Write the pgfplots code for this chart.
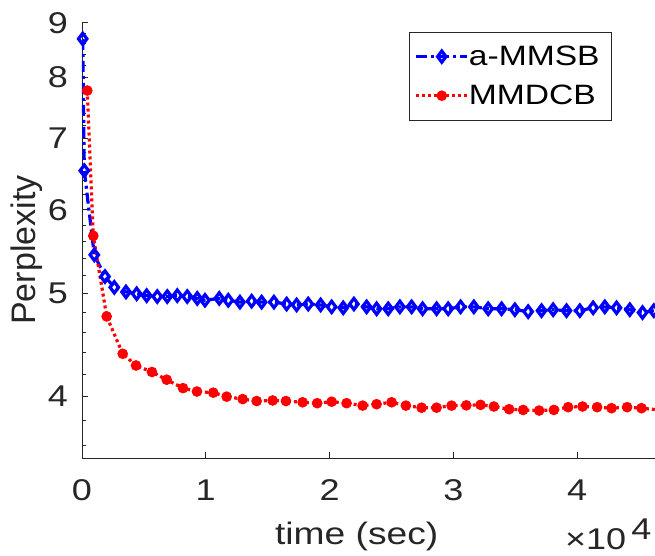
\documentclass[border=0pt]{standalone}
\usepackage{fontspec}
\setmainfont{Liberation Sans}[FakeStretch=1.2]
\newfontfamily\ylfont{Liberation Sans}
\usepackage{pgfplots}
\pgfplotsset{compat=1.18}
\definecolor{axgray}{gray}{0.15}
\definecolor{mblue}{rgb}{0,0,1}
\definecolor{mred}{rgb}{1,0,0}
\begin{document}
\begin{tikzpicture}
\useasboundingbox (-82pt,-97.7pt) rectangle (573pt,458.3pt);
\begin{axis}[
  at={(0pt,0pt)}, anchor=south west,
  scale only axis, width=573pt, height=435.6pt,
  xmin=0, xmax=46300, ymin=3.5, ymax=9,
  ymode=log,
  axis x line*=bottom, axis y line*=left,
  axis line style={axgray, line width=0.8pt, -},
  xtick={0,10000,20000,30000,40000}, xticklabels={0,1,2,3,4},
  scaled x ticks=false,
  ytick={4,5,6,7,8,9}, yticklabels={4,5,6,7,8,9},
  minor ytick={3.6,3.8,4.2,4.4,4.6,4.8,5.2,5.4,5.6,5.8,6.2,6.4,6.6,6.8,7.2,7.4,7.6,7.8,8.2,8.4,8.6,8.8},
  tick align=inside,
  major tick length=6pt, minor tick length=3.5pt,
  tick style={axgray, line width=0.8pt},
  ticklabel style={font=\fontsize{30}{36}\selectfont, text=axgray},
  yticklabel style={inner sep=0pt, anchor=east, xshift=-14pt},
  xticklabel style={inner sep=0pt, anchor=north, yshift=-21pt},
  xlabel={time (sec)},
  xlabel style={at={(axis description cs:0.4794,-0.199)}, anchor=base, inner sep=0pt, font=\fontsize{31}{37}\selectfont, text=axgray},
  ylabel={Perplexity},
  ylabel style={at={(axis description cs:-0.0820,0.478)}, anchor=base, inner sep=0pt, rotate=0, font=\ylfont\fontsize{34}{40}\selectfont, text=axgray},
  legend style={at={(axis description cs:0.5712,0.9793)}, anchor=north west,
    draw=axgray, line width=0.8pt, fill=white,
    font=\fontsize{28}{33}\selectfont,
    inner xsep=5pt, inner ysep=14pt, row sep=18pt,
    nodes={inner sep=0pt},
    /tikz/every even column/.append style={column sep=5pt}},
  legend cell align=left,
  legend image code/.code={\draw[mark repeat=2,mark phase=2,#1] plot coordinates {(0pt,0pt) (25.5pt,0pt) (51pt,0pt)};},
]
\addplot[mblue, line width=3.2pt, dash pattern={on 11pt off 4pt on 3pt off 4pt},
  mark=diamond, mark size=5.6pt, mark options={solid, fill=white, line width=3.2pt}]
coordinates {
(57,8.69) (186,6.53) (994,5.44) (1858,5.19) (2609,5.07) (3554,5.02) (4418,5.00) (5226,4.98) (6082,4.97) (6890,4.97) (7698,4.98) (8506,4.97) (9313,4.95) (9935,4.93) (11090,4.95) (11818,4.93) (12763,4.91) (13708,4.92) (14515,4.91) (15509,4.91) (16535,4.89) (17342,4.88) (18279,4.89) (19281,4.88) (20170,4.86) (21107,4.85) (21971,4.89) (22997,4.86) (23805,4.84) (24742,4.84) (25687,4.86) (26632,4.86) (27520,4.84) (28651,4.84) (29588,4.84) (30590,4.86) (31664,4.86) (32819,4.84) (33902,4.84) (34976,4.83) (36050,4.81) (37132,4.82) (38069,4.83) (39152,4.82) (40226,4.82) (41301,4.85) (42246,4.86) (43191,4.85) (44265,4.83) (45291,4.80) (46204,4.82)
};
\addlegendentry{a-MMSB\hspace*{7pt}}
\addplot[mred, line width=3.2pt, dash pattern={on 3pt off 3pt},
  mark=*, mark size=4.8pt, mark options={solid, fill=mred, line width=1pt}]
coordinates {
(428,7.77) (913,5.67) (1995,4.76) (3288,4.39) (4362,4.28) (5654,4.22) (6842,4.15) (8158,4.075) (9289,4.045) (10606,4.035) (11688,4.00) (12981,3.98) (14111,3.963) (15404,3.968) (16478,3.963) (17827,3.952) (19006,3.944) (20170,3.957) (21381,3.944) (22674,3.924) (23805,3.936) (25016,3.952) (26171,3.924) (27439,3.906) (28651,3.906) (29863,3.924) (31058,3.926) (32205,3.930) (33279,3.916) (34515,3.893) (35646,3.887) (36939,3.882) (38126,3.887) (39281,3.910) (40444,3.916) (41624,3.910) (42787,3.902) (44047,3.910) (45210,3.902) (46365,3.89)
};
\addlegendentry{MMDCB}
\end{axis}
\node[anchor=base west, inner sep=0pt, text=axgray, font=\fontsize{30}{36}\selectfont] at (483pt,-91pt) {×10\hspace{5pt}\raisebox{10pt}{4}};
\end{tikzpicture}
\end{document}
